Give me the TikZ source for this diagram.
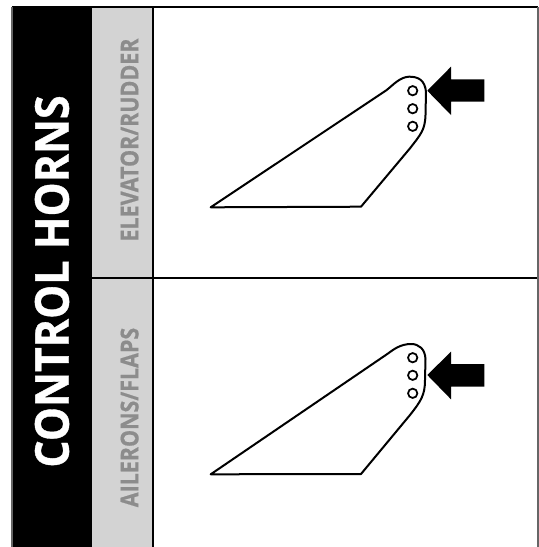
\documentclass[tikz,border=0pt]{standalone}
\usepackage{fontspec}
\setmainfont{Open Sans}[BoldFeatures={FakeStretch=0.87,FakeBold=0.6}]
\newfontfamily\titlefam{Open Sans}[BoldFeatures={FakeStretch=0.92,FakeBold=0.8}]
\usepackage[dvipsnames,svgnames,x11names]{xcolor}
\definecolor{PanelGray}{HTML}{D3D3D3}
\definecolor{LabelGray}{HTML}{8C8C8C}
\usetikzlibrary{positioning}

\begin{document}
\begin{tikzpicture}[x=0.75pt, y=-0.75pt,
  title/.style={rotate=90, text=white, font=\titlefam\bfseries\fontsize{35}{35}\selectfont, inner sep=0pt},
  sublbl/.style={rotate=90, text=LabelGray, font=\bfseries\fontsize{18.5}{18.5}\selectfont, inner sep=0pt},
  frameln/.style={line width=2pt, draw=black},
  hornln/.style={line width=1.5pt, draw=black, fill=white, line join=round},
  hole/.style={circle, draw=black, line width=1.3pt, fill=white, minimum size=7pt, inner sep=0pt}
]
\useasboundingbox (0,0) rectangle (539,547);

%% ---- Panels ----
\fill[black] (12,7) rectangle (92,547);
\fill[PanelGray] (92,8) rectangle (153,547);
\draw[frameln] (12,7) -- (538,7);
\draw[frameln] (153,7) -- (153,547);
\draw[frameln] (92,278) -- (538,278);
\draw[line width=1pt, draw=black!60] (538,7) -- (538,547);
\draw[line width=1pt, draw=black!60] (12,7) -- (12,547);

%% ---- Labels ----
\node[title]  (maintitle) at (52,281.5) {CONTROL HORNS};
\node[sublbl] (elevator)  at (129.6,140) {ELEVATOR/RUDDER};
\node[sublbl] (aileron)   at (129.6,417.5) {AILERONS/FLAPS};

%% ---- Upper horn ----
\draw[hornln] (210.7,207.3) -- (361,206.7) -- (410,148.3)
  .. controls (421,134) and (425,130) .. (425.5,115) -- (426,92)
  .. controls (425,80) and (418,76.5) .. (409,76.7)
  .. controls (400,77) and (393,85) .. (386.7,90) -- cycle;
\node[hole] (upa) at (412.7,90.7) {};
\node[hole] (upb) at (412.7,108.7) {};
\node[hole] (upc) at (412.7,126.3) {};
\fill[black] (427.3,90.7) -- (451,66.7) -- (451,79.3) -- (484.3,79.3)
  -- (484.3,101.7) -- (451,101.7) -- (451,115) -- cycle;

%% ---- Lower horn ----
\draw[hornln] (210.7,474.3) -- (361,474) -- (410,415)
  .. controls (421,401) and (425,395) .. (425,380) -- (425.5,359)
  .. controls (425,349) and (419,344) .. (411,344)
  .. controls (401,344) and (394,349) .. (388.3,353.3) -- cycle;
\node[hole] (loa) at (412.7,357.7) {};
\node[hole] (lob) at (412.7,375.3) {};
\node[hole] (loc) at (412.7,393.3) {};
\fill[black] (427.3,375) -- (451,351.7) -- (451,364) -- (484.3,364)
  -- (484.3,386.7) -- (451,386.7) -- (451,399.3) -- cycle;

\end{tikzpicture}
\end{document}
